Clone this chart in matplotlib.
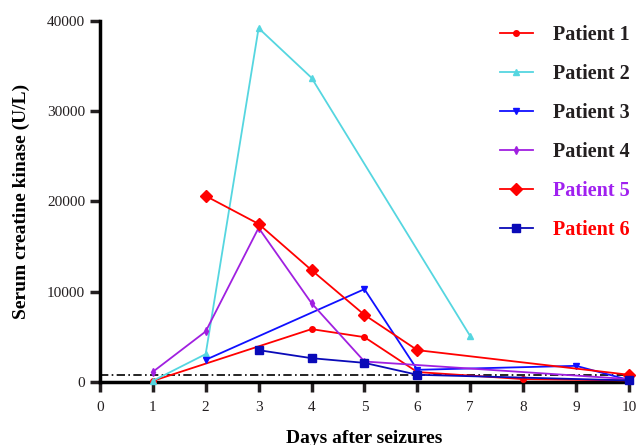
import numpy as np
import matplotlib
matplotlib.use("Agg")
import matplotlib.pyplot as plt

plt.rcParams['font.family'] = ['Liberation Serif', 'DejaVu Serif']

# data
p1_days = [1, 4, 5, 6, 8, 10]
p1_ck = [100, 5840, 4950, 1080, 300, 150]
p2_days = [1, 2, 3, 4, 7]
p2_ck = [100, 3070, 39200, 33700, 5060]
p3_days = [2, 5, 6, 9, 10]
p3_ck = [2440, 10270, 1330, 1770, 200]
p4_days = [1, 2, 3, 4, 5, 10]
p4_ck = [1100, 5580, 17060, 8720, 2250, 300]
p5_days = [2, 3, 4, 5, 6, 10]
p5_ck = [20600, 17500, 12380, 7420, 3510, 780]
p6_days = [3, 4, 5, 6, 10]
p6_ck = [3510, 2620, 2100, 780, 150]
ref_line = 800

names = ["Patient 1", "Patient 2", "Patient 3", "Patient 4", "Patient 5", "Patient 6"]
series = [(p1_days, p1_ck), (p2_days, p2_ck), (p3_days, p3_ck),
          (p4_days, p4_ck), (p5_days, p5_ck), (p6_days, p6_ck)]
colors = ['#ff0000', '#55d6e0', '#1010ff', '#a020e0', '#ff0000', '#0a0ab8']
markers = ['o', '^', 'v', 'd', 'D', 's']
msizes = [4, 5, 5, 4, 6, 6]
label_colors = ['#231f20', '#231f20', '#231f20', '#231f20', '#a020f0', '#ff0000']

fig = plt.figure(figsize=(6.36, 4.45), dpi=100)
ax = fig.add_axes([0.157, 0.142, 0.832, 0.811])

for (d, v), n, c, m, ms in zip(series, names, colors, markers, msizes):
    ax.plot(d, v, color=c, marker=m, markersize=ms, linewidth=1.3, label=n, clip_on=False, zorder=3)

ax.axhline(ref_line, color='black', linestyle=(0, (5, 2, 1, 2)), linewidth=1.2, zorder=2)

ax.set_xlim(0, 10)
ax.set_ylim(0, 40000)
ax.set_xticks(np.arange(0, 11, 1))
ax.set_yticks(np.arange(0, 40001, 10000))
ax.spines['top'].set_visible(False)
ax.spines['right'].set_visible(False)
ax.spines['left'].set_linewidth(2.5)
ax.spines['bottom'].set_linewidth(2.5)
ax.tick_params(width=2.5, length=7, labelsize=11, colors='#231f20')
ax.tick_params(axis='x', pad=7)

ax.set_xlabel("Days after seizures", fontsize=14, fontweight='bold', labelpad=11)
ax.set_ylabel("Serum creatine kinase (U/L)", fontsize=14, fontweight='bold', labelpad=12)

leg = ax.legend(loc='upper right', bbox_to_anchor=(1.035, 1.04), frameon=False,
                prop={'size': 14.5, 'weight': 'bold'}, handlelength=1.6,
                labelspacing=0.95, handletextpad=1.0)
for t, c in zip(leg.get_texts(), label_colors):
    t.set_color(c)

fig.savefig("out.png", dpi=100)
